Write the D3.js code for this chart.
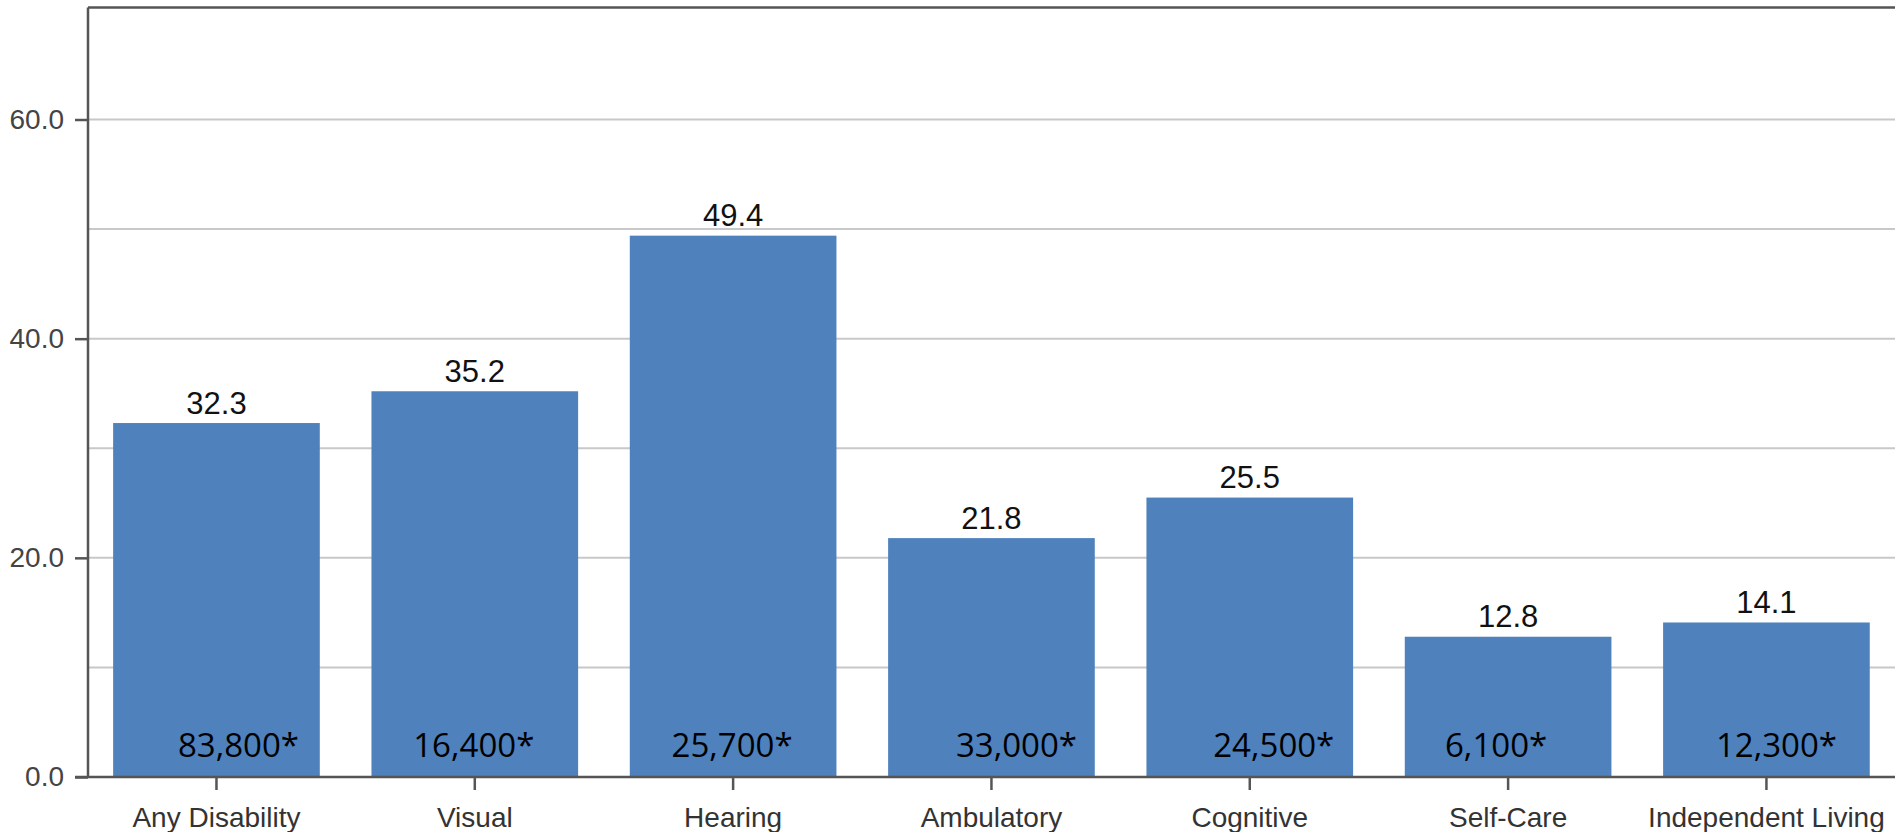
<!DOCTYPE html>
<html>
<head>
<meta charset="utf-8">
<script src="https://cdn.jsdelivr.net/npm/d3@7"></script>
<style>
  html, body { margin: 0; padding: 0; background: #fff; overflow: hidden; }
  svg { display: block; }
</style>
</head>
<body>
<svg id="chart" width="1895" height="832"></svg>
<script>
// ---- data ----
const categories = ["Any Disability", "Visual", "Hearing", "Ambulatory", "Cognitive", "Self-Care", "Independent Living"];
const values = [32.3, 35.2, 49.4, 21.8, 25.5, 12.8, 14.1];
const countLabels = ["83,800*", "16,400*", "25,700*", "33,000*", "24,500*", "6,100*", "12,300*"];
const yTickValues = [0, 20, 40, 60];
const yGridValues = [10, 20, 30, 40, 50, 60];

// ---- layout (manual nudges of the count text boxes, px from bar centre) ----
const countLabelDx = [22, -1, -1, 25, 24, -12, 10];

const W = 1895, H = 832;
const plotLeft = 88, plotTop = 7.5, plotRight = 1895.6;

const svg = d3.select("#chart");

const x = d3.scaleBand()
  .domain(categories)
  .range([87.3, plotRight])
  .paddingInner(0.2)
  .paddingOuter(0.1);

const y = d3.scaleLinear()
  .domain([0, 60])
  .range([777, 119.5]);

const axisColor = "#555";
const axisFont = "'Liberation Sans', Arial, sans-serif";

// gridlines
svg.append("g")
  .selectAll("line")
  .data(yGridValues)
  .join("line")
  .attr("x1", plotLeft)
  .attr("x2", W)
  .attr("y1", d => y(d))
  .attr("y2", d => y(d))
  .attr("stroke", "#c8c8c8")
  .attr("stroke-width", 2);

// bars
svg.append("g")
  .selectAll("rect")
  .data(categories)
  .join("rect")
  .attr("x", d => x(d))
  .attr("width", x.bandwidth())
  .attr("y", (d, i) => y(values[i]))
  .attr("height", (d, i) => y(0) - y(values[i]))
  .attr("fill", "#4f81bd");

// value labels above bars
svg.append("g")
  .selectAll("text")
  .data(categories)
  .join("text")
  .attr("x", d => x(d) + x.bandwidth() / 2)
  .attr("y", (d, i) => y(values[i]) - 9.5)
  .attr("text-anchor", "middle")
  .attr("font-family", axisFont)
  .attr("font-size", 31)
  .attr("fill", "#111")
  .text((d, i) => values[i].toFixed(1));

// count labels inside bars
svg.append("g")
  .selectAll("text")
  .data(categories)
  .join("text")
  .attr("x", (d, i) => x(d) + x.bandwidth() / 2 + countLabelDx[i])
  .attr("y", 757)
  .attr("text-anchor", "middle")
  .attr("font-family", "'Open Sans', 'Noto Sans', sans-serif")
  .attr("font-size", 33)
  .attr("fill", "#000")
  .text((d, i) => countLabels[i]);

// y axis
const yAxis = d3.axisLeft(y)
  .tickValues(yTickValues)
  .tickFormat(d3.format(".1f"))
  .tickSize(13)
  .tickPadding(11);

const gy = svg.append("g")
  .attr("transform", `translate(${plotLeft},0)`)
  .call(yAxis);
gy.select(".domain").remove();
gy.selectAll(".tick line").attr("stroke", axisColor).attr("stroke-width", 2.5);
gy.selectAll(".tick text")
  .attr("font-family", axisFont)
  .attr("font-size", 28)
  .attr("fill", "#444");

// x axis
const xAxis = d3.axisBottom(x)
  .tickSize(13)
  .tickPadding(17);

const gx = svg.append("g")
  .attr("transform", `translate(0,${y(0)})`)
  .call(xAxis);
gx.select(".domain").remove();
gx.selectAll(".tick line").attr("stroke", axisColor).attr("stroke-width", 2.5);
gx.selectAll(".tick text")
  .attr("font-family", axisFont)
  .attr("font-size", 28)
  .attr("fill", "#333");

// frame lines
svg.append("line")
  .attr("x1", plotLeft).attr("x2", plotLeft)
  .attr("y1", plotTop).attr("y2", y(0))
  .attr("stroke", axisColor).attr("stroke-width", 2.5);
svg.append("line")
  .attr("x1", plotLeft).attr("x2", W)
  .attr("y1", plotTop).attr("y2", plotTop)
  .attr("stroke", axisColor).attr("stroke-width", 2.5);
svg.append("line")
  .attr("x1", 75).attr("x2", W)
  .attr("y1", y(0)).attr("y2", y(0))
  .attr("stroke", axisColor).attr("stroke-width", 2.5);
</script>
</body>
</html>
